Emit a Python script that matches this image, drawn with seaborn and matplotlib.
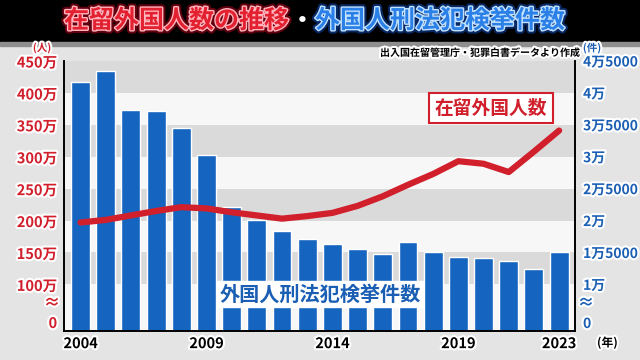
import seaborn as sns
import matplotlib.pyplot as plt
import matplotlib.patheffects as pe
from matplotlib.patches import Rectangle
import numpy as np

years = [2004, 2005, 2006, 2007, 2008, 2009, 2010, 2011, 2012, 2013,
         2014, 2015, 2016, 2017, 2018, 2019, 2020, 2021, 2022, 2023]
# 外国人刑法犯検挙件数 (件)
cases = [41700, 43500, 37300, 37200, 34500, 30300, 22100, 20100, 18300, 17100,
         16300, 15500, 14700, 16700, 15000, 14300, 14100, 13600, 12400, 15000]
# 在留外国人数 (万人)
residents = [197, 201, 208, 215, 221, 219, 213, 208, 203, 207,
             212, 223, 238, 256, 273, 293, 289, 276, 308, 341]

left_ticks = [27, 100, 150, 200, 250, 300, 350, 400, 450]
left_labels = ['0', '100万', '150万', '200万', '250万', '300万', '350万', '400万', '450万']
right_ticks = [2700, 10000, 15000, 20000, 25000, 30000, 35000, 40000, 45000]
right_labels = ['0', '1万', '1万5000', '2万', '2万5000', '3万', '3万5000', '4万', '4万5000']
year_ticks = ['2004', '2009', '2014', '2019', '2023']

RED = '#d11f2c'
BLUE = '#1a5fb4'
BAR = '#1565c0'

sns.set_theme(style='white')
plt.rcParams['font.family'] = ['Noto Sans CJK JP', 'DejaVu Sans']
plt.rcParams['font.weight'] = 'bold'

white_edge = [pe.withStroke(linewidth=3, foreground='white')]

fig = plt.figure(figsize=(6.4, 3.6), dpi=100, facecolor='#e4e4e4')
fig.add_artist(Rectangle((0, 1 - 42 / 360), 1, 42 / 360, transform=fig.transFigure,
                         color='black', zorder=0))
fig.add_artist(Rectangle((0, 1 - 46 / 360), 1, 4 / 360, transform=fig.transFigure,
                         color='#8e8e8e', zorder=0))

ax = fig.add_axes([0.1, 0.0806, 0.798, 0.75])
ax2 = ax.twinx()

# background bands
ax.set_facecolor('#f7f7f7')
for lo in [10000, 20000, 30000, 40000]:
    ax.axhspan(lo, lo + 5000, color='#dadada', zorder=0, lw=0)

year_str = [str(y) for y in years]
sns.barplot(x=year_str, y=cases, color=BAR, saturation=1, width=0.75, ax=ax, zorder=2)
ax.set_xlim(-0.655, len(years) - 0.38)
ax.set_ylim(right_ticks[0], right_ticks[-1])

sns.lineplot(x=np.arange(len(years)), y=residents, color=RED, lw=4.5, ax=ax2,
             solid_capstyle='round', solid_joinstyle='round')
ax2.set_ylim(left_ticks[0], left_ticks[-1])

# right axis (件) from bar axes, left axis (人) from line axes
ax.yaxis.tick_right()
ax.set_yticks(right_ticks)
ax.set_yticklabels(right_labels)
ax.tick_params(axis='y', length=0, pad=6, labelsize=10, labelcolor=BLUE)
ax2.yaxis.tick_left()
ax2.set_yticks(left_ticks)
ax2.set_yticklabels(left_labels)
ax2.tick_params(axis='y', length=0, pad=5, labelsize=10.5, labelcolor=RED)

ax.set_xticks([year_str.index(t) for t in year_ticks])
ax.set_xticklabels(year_ticks)
ax.tick_params(axis='x', length=0, pad=3, labelsize=10.5, labelcolor='black')

for lbl in ax.get_yticklabels() + ax2.get_yticklabels() + ax.get_xticklabels():
    lbl.set_path_effects(white_edge)
    lbl.set_fontweight('bold')
ax.get_yticklabels()[0].set_va('bottom')
ax2.get_yticklabels()[0].set_va('bottom')

for a in (ax, ax2):
    a.set_xlabel('')
    a.set_ylabel('')
    a.spines['top'].set_visible(False)
    for s in ('left', 'right', 'bottom'):
        a.spines[s].set_color('black')
        a.spines[s].set_linewidth(1.2)
ax2.patch.set_visible(False)

# axis break marks and units
fig.text(52 / 640, 1 - 303 / 360, '≈', color=RED, fontsize=12, ha='center', va='center',
         path_effects=white_edge)
fig.text(586 / 640, 1 - 303 / 360, '≈', color=BLUE, fontsize=12, ha='center', va='center',
         path_effects=white_edge)
fig.text(42 / 640, 1 - 48 / 360, '(人)', color=RED, fontsize=7.5, ha='center', va='center',
         path_effects=white_edge)
fig.text(592 / 640, 1 - 48 / 360, '(件)', color=BLUE, fontsize=7.5, ha='center', va='center',
         path_effects=white_edge)
fig.text(597 / 640, 1 - 343 / 360, '(年)', color='black', fontsize=8.5, ha='left', va='center',
         path_effects=white_edge)
fig.text(580 / 640, 1 - 53 / 360, '出入国在留管理庁・犯罪白書データより作成', color='black',
         fontsize=7.2, ha='right', va='center', path_effects=white_edge)

# series labels
fig.text(491 / 640, 1 - 108 / 360, '在留外国人数', color=RED, fontsize=13.5, ha='center',
         va='center', bbox=dict(boxstyle='square,pad=0.3', fc='white', ec=RED, lw=1.5))
fig.text(320 / 640, 1 - 294 / 360, '外国人刑法犯検挙件数', color=BLUE, fontsize=14.5,
         ha='center', va='center', bbox=dict(boxstyle='square,pad=0.12', fc='white', ec='white'))

# title
red_glow = [pe.Stroke(linewidth=5, foreground='#8a0014', alpha=0.7),
            pe.Stroke(linewidth=2, foreground='#ffb6bf'), pe.Normal()]
blue_glow = [pe.Stroke(linewidth=5, foreground='#0a3a8c', alpha=0.7),
             pe.Stroke(linewidth=2, foreground='#c4e2ff'), pe.Normal()]
fig.text(289 / 640, 1 - 21 / 360, '在留外国人数の推移', color='#e3202f', fontsize=18,
         ha='right', va='center', path_effects=red_glow)
fig.text(302 / 640, 1 - 21 / 360, '・', color='white', fontsize=18, ha='center', va='center')
fig.text(315 / 640, 1 - 21 / 360, '外国人刑法犯検挙件数', color='#2a80e6', fontsize=18,
         ha='left', va='center', path_effects=blue_glow)

fig.savefig('out.png', dpi=100)
